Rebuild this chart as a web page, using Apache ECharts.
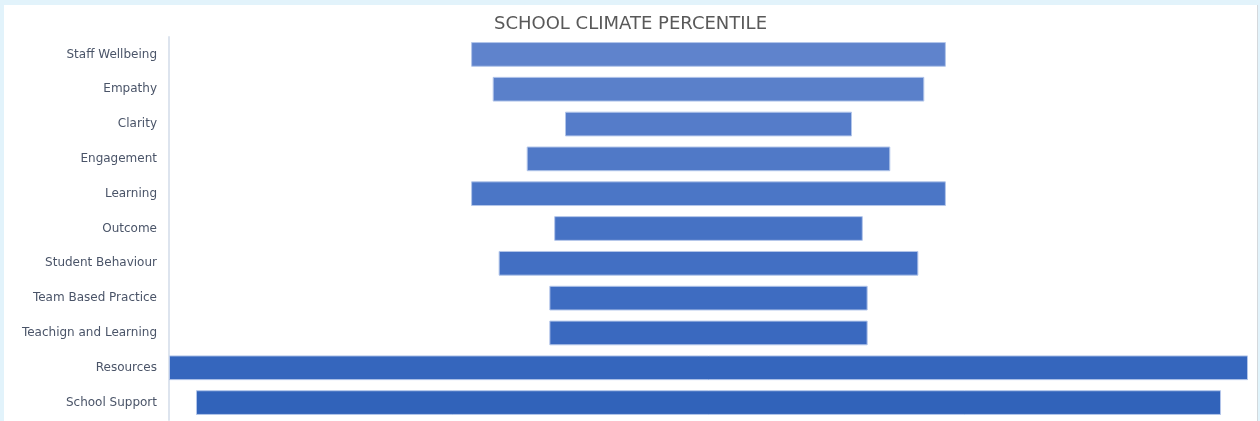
<!DOCTYPE html>
<html>
<head>
<meta charset="utf-8">
<script src="https://cdn.jsdelivr.net/npm/echarts@6/dist/echarts.min.js"></script>
<style>
  html, body { margin: 0; padding: 0; background: #e2f3fb; }
  #main {
    position: absolute; left: 4px; top: 5px;
    width: 1254px; height: 416px;
    background: #ffffff;
    border-right: 1px solid #d4d8dc;
    box-sizing: border-box;
  }
</style>
</head>
<body>
<div id="main"></div>
<script>
// 类别（自上而下）
const categories = [
  'Staff Wellbeing', 'Empathy', 'Clarity', 'Engagement', 'Learning', 'Outcome',
  'Student Behaviour', 'Team Based Practice', 'Teachign and Learning', 'Resources', 'School Support'
];
// 百分位数值
const percentileValues = [44, 40, 26.6, 33.7, 44, 28.6, 38.9, 29.5, 29.5, 100, 95];
// 每条柱的颜色，从上往下逐渐变深
const barColors = [
  '#5f83cc', '#5a80ca', '#557cc9', '#5079c7', '#4b76c6', '#4672c4',
  '#426fc3', '#3e6cc1', '#3a69bf', '#3566bd', '#3163ba'
];

// 居中用的透明占位
const offsetValues = percentileValues.map(v => (100 - v) / 2);

const chart = echarts.init(document.getElementById('main'));

const option = {
  animation: false,
  title: {
    text: 'SCHOOL CLIMATE PERCENTILE',
    left: 'center',
    top: 5,
    textStyle: {
      fontFamily: 'DejaVu Sans',
      fontSize: 18,
      fontWeight: 'normal',
      color: '#595959'
    }
  },
  grid: {
    left: 165,
    right: 9,
    top: 32,
    bottom: 1
  },
  xAxis: {
    type: 'value',
    min: 0,
    max: 100,
    show: false
  },
  yAxis: {
    type: 'category',
    data: categories,
    inverse: true,
    axisTick: { show: false },
    axisLine: {
      show: true,
      lineStyle: { color: '#dde4ee', width: 2 }
    },
    axisLabel: {
      margin: 12,
      fontFamily: 'DejaVu Sans',
      fontSize: 12,
      color: '#4a5468'
    }
  },
  series: [
    {
      name: 'offset',
      type: 'bar',
      stack: 'total',
      silent: true,
      itemStyle: { color: 'transparent' },
      data: offsetValues
    },
    {
      name: 'Percentile',
      type: 'bar',
      stack: 'total',
      barCategoryGap: '29%',
      data: percentileValues.map((v, i) => ({
        value: v,
        itemStyle: {
          color: barColors[i],
          borderColor: '#b3c6ea',
          borderWidth: 1
        }
      }))
    }
  ]
};

chart.setOption(option);
</script>
</body>
</html>
